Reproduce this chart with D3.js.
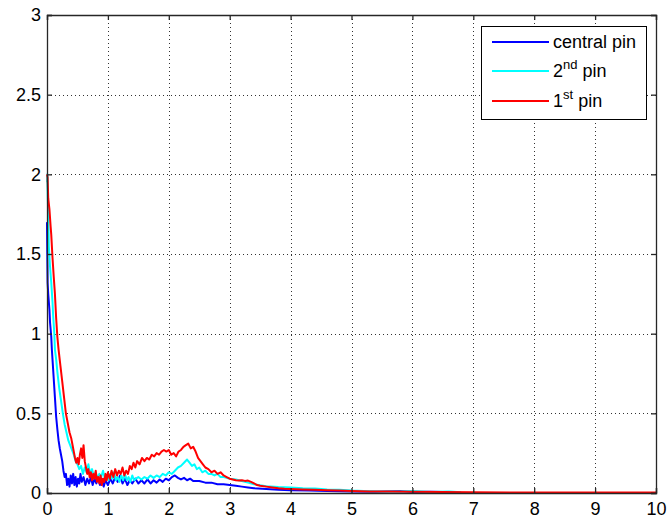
<!DOCTYPE html>
<html>
<head>
<meta charset="utf-8">
<script src="https://cdn.jsdelivr.net/npm/d3@7"></script>
<style>
  html, body { margin: 0; padding: 0; background: #fff; }
  svg { display: block; font-family: "Liberation Sans", Arial, sans-serif; }
</style>
</head>
<body>
<svg id="chart" width="667" height="523"></svg>
<script>
// Axis ticks
const xTicks = [0, 1, 2, 3, 4, 5, 6, 7, 8, 9, 10];
const yTicks = [0, 0.5, 1, 1.5, 2, 2.5, 3];

// Legend entries (plain text + superscript)
const seriesNames = [
  { base: "central pin", sup: "", tail: "" },
  { base: "2", sup: "nd", tail: " pin" },
  { base: "1", sup: "st", tail: " pin" }
];
const seriesColors = ["#0000ff", "#00ffff", "#ff0000"];

// Central pin: [time, value]
const centralPin = [
  [0.00,1.70],[0.005,1.50],[0.01,1.32],[0.02,1.25],[0.04,1.15],[0.05,1.07],[0.07,0.98],[0.08,0.90],
  [0.09,0.84],[0.11,0.72],[0.13,0.60],[0.15,0.48],[0.17,0.40],[0.19,0.33],[0.21,0.28],[0.23,0.24],
  [0.25,0.20],[0.27,0.14],[0.29,0.10],[0.31,0.12],[0.33,0.05],[0.35,0.09],[0.37,0.04],[0.39,0.11],
  [0.41,0.06],[0.43,0.12],[0.45,0.05],[0.47,0.10],[0.49,0.04],[0.51,0.09],[0.53,0.06],[0.55,0.12],
  [0.57,0.07],[0.60,0.10],[0.63,0.05],[0.66,0.09],[0.69,0.06],[0.72,0.10],[0.75,0.05],[0.78,0.09],
  [0.81,0.06],[0.84,0.10],[0.87,0.05],[0.90,0.09],[0.93,0.04],[0.96,0.08],[1.00,0.05],[1.04,0.09],
  [1.08,0.06],[1.12,0.10],[1.16,0.07],[1.20,0.11],[1.24,0.06],[1.28,0.09],[1.32,0.05],[1.36,0.08],
  [1.40,0.06],[1.45,0.09],[1.50,0.06],[1.55,0.08],[1.60,0.06],[1.65,0.085],[1.70,0.06],[1.75,0.08],
  [1.80,0.065],[1.85,0.085],[1.90,0.07],[1.95,0.09],[2.00,0.08],[2.05,0.10],[2.10,0.11],[2.15,0.095],
  [2.20,0.085],[2.25,0.095],[2.30,0.08],[2.35,0.09],[2.40,0.075],[2.50,0.075],[2.60,0.065],[2.70,0.065],
  [2.80,0.055],[2.90,0.055],[3.00,0.05],[3.10,0.045],[3.20,0.04],[3.30,0.035],[3.40,0.03],[3.60,0.025],
  [3.80,0.02],[4.00,0.018],[4.30,0.015],[4.60,0.012],[5.00,0.010],[5.40,0.008],[5.80,0.012],[6.00,0.006],
  [6.30,0.008],[6.70,0.005]
];

// 2nd pin: [time, value]
const secondPin = [
  [0.00,1.95],[0.005,2.00],[0.01,1.90],[0.02,1.75],[0.03,1.55],[0.05,1.42],[0.07,1.32],[0.09,1.20],
  [0.10,1.12],[0.12,1.00],[0.13,0.90],[0.15,0.84],[0.17,0.76],[0.20,0.66],[0.23,0.58],[0.26,0.50],
  [0.29,0.43],[0.32,0.38],[0.35,0.33],[0.38,0.30],[0.41,0.27],[0.44,0.24],[0.47,0.20],[0.50,0.18],
  [0.53,0.15],[0.56,0.17],[0.59,0.12],[0.62,0.16],[0.65,0.13],[0.68,0.18],[0.71,0.12],[0.74,0.15],
  [0.77,0.10],[0.80,0.13],[0.83,0.09],[0.86,0.12],[0.89,0.10],[0.92,0.14],[0.95,0.09],[0.98,0.11],
  [1.01,0.08],[1.04,0.12],[1.07,0.09],[1.10,0.13],[1.13,0.08],[1.16,0.10],[1.19,0.07],[1.22,0.11],
  [1.25,0.08],[1.28,0.12],[1.31,0.08],[1.34,0.10],[1.37,0.07],[1.40,0.11],[1.43,0.08],[1.46,0.09],
  [1.50,0.10],[1.55,0.085],[1.60,0.10],[1.65,0.09],[1.70,0.11],[1.75,0.095],[1.80,0.11],[1.85,0.10],
  [1.90,0.12],[1.95,0.11],[2.00,0.13],[2.05,0.12],[2.10,0.14],[2.15,0.16],[2.20,0.17],[2.25,0.19],
  [2.30,0.21],[2.34,0.19],[2.38,0.17],[2.42,0.18],[2.46,0.15],[2.50,0.16],[2.55,0.13],[2.60,0.14],
  [2.65,0.12],[2.70,0.12],[2.75,0.11],[2.80,0.12],[2.85,0.10],[2.90,0.10],[2.95,0.095],[3.00,0.09],
  [3.10,0.085],[3.20,0.075],[3.30,0.065],[3.40,0.055],[3.50,0.048],[3.60,0.042],[3.80,0.037],[4.00,0.035],
  [4.20,0.030],[4.40,0.028],[4.60,0.022],[4.80,0.020],[5.00,0.015],[5.20,0.012],[5.50,0.010],[5.80,0.009],
  [6.00,0.012],[6.30,0.006],[6.60,0.010],[6.80,0.005]
];

// 1st pin: [time, value]
const firstPin = [
  [0.00,2.00],[0.01,1.98],[0.02,1.85],[0.04,1.78],[0.06,1.67],[0.07,1.62],[0.09,1.48],[0.11,1.36],
  [0.13,1.25],[0.15,1.10],[0.17,0.98],[0.19,0.90],[0.22,0.80],[0.25,0.70],[0.28,0.60],[0.31,0.50],
  [0.34,0.44],[0.37,0.38],[0.40,0.34],[0.42,0.30],[0.44,0.26],[0.46,0.22],[0.48,0.19],[0.50,0.22],
  [0.52,0.18],[0.54,0.24],[0.56,0.28],[0.58,0.22],[0.60,0.30],[0.62,0.20],[0.64,0.16],[0.66,0.12],
  [0.68,0.15],[0.70,0.10],[0.72,0.13],[0.74,0.08],[0.76,0.12],[0.78,0.09],[0.80,0.14],[0.82,0.07],
  [0.84,0.10],[0.86,0.06],[0.88,0.11],[0.90,0.05],[0.92,0.09],[0.94,0.07],[0.96,0.12],[0.98,0.08],
  [1.00,0.13],[1.03,0.09],[1.06,0.14],[1.09,0.10],[1.12,0.15],[1.15,0.11],[1.18,0.14],[1.21,0.12],
  [1.24,0.16],[1.27,0.11],[1.30,0.14],[1.33,0.12],[1.36,0.17],[1.39,0.15],[1.42,0.19],[1.45,0.16],
  [1.48,0.20],[1.52,0.18],[1.56,0.22],[1.60,0.20],[1.64,0.22],[1.68,0.21],[1.72,0.24],[1.76,0.23],
  [1.80,0.25],[1.84,0.24],[1.88,0.26],[1.92,0.27],[1.96,0.26],[2.00,0.27],[2.04,0.24],[2.08,0.25],
  [2.12,0.23],[2.16,0.26],[2.20,0.27],[2.24,0.29],[2.28,0.30],[2.32,0.31],[2.36,0.28],[2.40,0.29],
  [2.44,0.26],[2.48,0.22],[2.52,0.20],[2.56,0.18],[2.60,0.16],[2.65,0.15],[2.70,0.13],[2.75,0.14],
  [2.80,0.12],[2.85,0.13],[2.90,0.11],[2.95,0.10],[3.00,0.09],[3.05,0.085],[3.10,0.08],[3.15,0.078],
  [3.20,0.080],[3.25,0.076],[3.30,0.078],[3.35,0.07],[3.40,0.06],[3.45,0.05],[3.50,0.045],[3.60,0.040],
  [3.70,0.035],[3.80,0.030],[3.90,0.027],[4.00,0.025],[4.20,0.022],[4.40,0.020],[4.60,0.017],[4.80,0.015],
  [5.00,0.012],[5.30,0.010],[5.60,0.009],[6.00,0.008],[6.50,0.006],[7.00,0.004],[8.00,0.003],[9.00,0.003],
  [10.00,0.003]
];

const seriesData = [centralPin, secondPin, firstPin];

const svg = d3.select("#chart");
const plot = { left: 47, top: 15, right: 656, bottom: 493 };

const x = d3.scaleLinear().domain([0, 10]).range([plot.left, plot.right]);
const y = d3.scaleLinear().domain([0, 3]).range([plot.bottom, plot.top]);

const axisColor = "#262626";
const fontSize = 18;

// Dotted grid
const grid = svg.append("g").attr("stroke", "#333").attr("stroke-width", 1)
  .attr("stroke-dasharray", "1,3").attr("shape-rendering", "crispEdges");
grid.selectAll(".gx").data(xTicks.slice(1, -1)).join("line")
  .attr("x1", d => Math.round(x(d)) + 0.5).attr("x2", d => Math.round(x(d)) + 0.5)
  .attr("y1", plot.top).attr("y2", plot.bottom);
grid.selectAll(".gy").data(yTicks.slice(1, -1)).join("line")
  .attr("y1", d => Math.round(y(d)) + 0.5).attr("y2", d => Math.round(y(d)) + 0.5)
  .attr("x1", plot.left).attr("x2", plot.right);

// Data lines (drawn in plotting order: last on top)
const line = d3.line().x(d => x(d[0])).y(d => y(d[1]));
const lines = svg.append("g").attr("fill", "none").attr("stroke-width", 2)
  .attr("stroke-linejoin", "round");
seriesData.forEach((s, i) => {
  lines.append("path").datum(s).attr("stroke", seriesColors[i]).attr("d", line);
});

// Axes with inward ticks on all four sides
const tickLen = 5;
const bottomAxis = d3.axisBottom(x).tickValues(xTicks).tickSize(-tickLen).tickPadding(9).tickFormat(d3.format("d"));
const topAxis = d3.axisTop(x).tickValues(xTicks).tickSize(-tickLen).tickFormat("");
const leftAxis = d3.axisLeft(y).tickValues(yTicks).tickSize(-tickLen).tickPadding(6).tickFormat(d => String(d));
const rightAxis = d3.axisRight(y).tickValues(yTicks).tickSize(-tickLen).tickFormat("");

function styleAxis(g) {
  g.selectAll("path").attr("stroke", axisColor).attr("stroke-width", 1.3);
  g.selectAll("line").attr("stroke", axisColor).attr("stroke-width", 1.3);
  g.selectAll("text").attr("fill", "#000").attr("font-size", fontSize)
    .attr("font-family", "Liberation Sans, Arial, sans-serif");
}

svg.append("g").attr("transform", `translate(0,${plot.bottom})`).call(bottomAxis).call(styleAxis);
svg.append("g").attr("transform", `translate(0,${plot.top})`).call(topAxis).call(styleAxis);
svg.append("g").attr("transform", `translate(${plot.left},0)`).call(leftAxis).call(styleAxis);
svg.append("g").attr("transform", `translate(${plot.right},0)`).call(rightAxis).call(styleAxis);

// Legend
const legend = svg.append("g");
legend.append("rect").attr("x", 481.5).attr("y", 26.5).attr("width", 165).attr("height", 93)
  .attr("fill", "#fff").attr("stroke", "#000").attr("stroke-width", 1);
const rowY = [42, 71, 101];
seriesNames.forEach((n, i) => {
  legend.append("line").attr("x1", 492).attr("x2", 549).attr("y1", rowY[i]).attr("y2", rowY[i])
    .attr("stroke", seriesColors[i]).attr("stroke-width", 2);
  const t = legend.append("text").attr("x", 553).attr("y", rowY[i] + 6)
    .attr("font-size", fontSize).attr("fill", "#000");
  t.append("tspan").text(n.base);
  if (n.sup) {
    t.append("tspan").attr("font-size", 13).attr("dy", -8).text(n.sup);
    t.append("tspan").attr("dy", 8).text(n.tail);
  }
});
</script>
</body>
</html>
